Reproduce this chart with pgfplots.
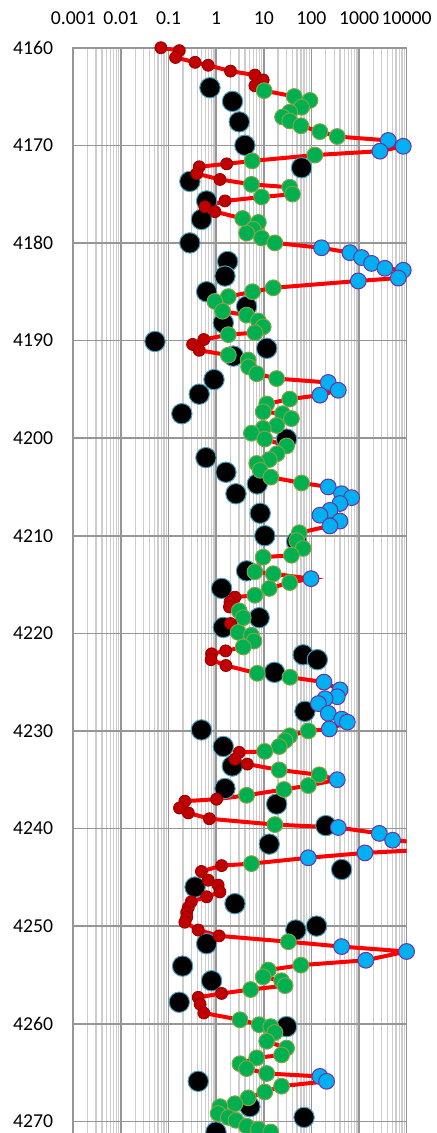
\documentclass[border=0pt]{standalone}
\usepackage{fontspec}
\setmainfont{Carlito}
\usepackage{pgfplots}
\usepackage{pgfplotstable}
\pgfplotsset{compat=1.18}
\definecolor{majg}{RGB}{150,150,150}
\definecolor{ming}{RGB}{205,205,205}
\definecolor{lred}{RGB}{255,0,0}
\definecolor{mred}{RGB}{192,0,0}
\definecolor{mredE}{RGB}{150,0,0}
\definecolor{mgreen}{RGB}{0,176,80}
\definecolor{mgreenE}{RGB}{130,165,70}
\definecolor{mblue}{RGB}{0,176,240}
\definecolor{mblueE}{RGB}{112,48,160}
\definecolor{mblkE}{RGB}{70,160,190}

\pgfplotstableread{
x y
0.74 4164.1
2.2 4165.5
3.05 4167.6
4.0 4170.0
62 4172.3
0.28 4173.7
0.63 4175.7
0.49 4177.6
0.28 4180.0
1.74 4181.9
1.53 4183.4
0.63 4185.0
4.35 4186.5
1.41 4188.2
0.052 4190.1
11.5 4190.8
2.29 4191.6
0.9 4194.0
0.44 4195.5
0.19 4197.5
30 4200.1
0.61 4202.0
1.6 4203.5
7.3 4204.7
2.6 4205.7
8.4 4207.7
10.5 4210.0
49 4210.6
4.35 4213.6
1.3 4215.4
8.0 4218.4
1.41 4219.4
67 4222.2
133 4222.7
16.8 4224.0
73 4228.0
0.49 4229.9
1.41 4231.6
2.18 4233.6
1.53 4235.9
18.6 4237.5
201 4239.7
13 4241.6
430 4244.2
0.36 4246.0
2.48 4247.7
128 4250.0
47 4250.4
0.63 4251.8
0.197 4254.1
0.80 4255.6
0.168 4257.8
30 4260.3
0.42 4265.9
5.1 4268.5
70 4269.6
0.99 4271.1
}\blackdata

\pgfplotstableread{
x y c
0.069 4160.0 r
0.168 4160.3 r
0.14 4161.0 r
0.36 4161.5 r
0.68 4161.8 r
2.0 4162.4 r
6.5 4162.8 r
9.7 4163.3 r
6.5 4163.9 r
10.2 4164.4 g
43.6 4165.0 g
93 4165.4 g
62 4166.1 g
35 4166.6 g
24.8 4167.1 g
35 4167.5 g
60 4168.0 g
151 4168.6 g
348 4169.1 g
4100 4169.5 b
8470 4170.1 b
2740 4170.6 b
118 4171.0 g
5.7 4171.6 g
1.66 4171.9 r
0.44 4172.2 r
0.39 4172.9 r
1.2 4173.5 r
5.5 4174.0 g
35 4174.3 g
40 4175.0 g
9 4175.3 g
1.53 4175.7 r
0.58 4176.3 r
0.94 4176.8 r
3.6 4177.5 g
7.7 4177.9 g
6.0 4178.6 g
4.35 4179.0 g
9.0 4179.5 g
17.1 4180.0 g
163 4180.5 b
643 4181.0 b
1130 4181.5 b
1830 4182.1 b
3490 4182.6 b
8470 4182.8 b
6650 4183.6 b
962 4183.9 b
15.8 4184.6 g
5.8 4185.0 g
1.8 4185.5 g
0.94 4186.0 g
1.36 4187.0 g
4.35 4187.4 g
7.7 4188.0 g
9.7 4188.6 g
6.5 4189.2 g
1.8 4189.4 g
0.55 4189.9 r
0.32 4190.4 r
0.44 4191.0 r
1.8 4191.5 g
4.7 4192.0 g
4.8 4192.7 g
7.1 4193.4 g
18.6 4193.9 g
225 4194.3 b
366 4195.1 b
151 4195.6 b
35 4196.0 g
11.5 4196.5 g
9.7 4197.3 g
24.8 4197.5 g
38 4198.0 g
18.6 4198.7 g
9.7 4199.0 g
5.5 4199.5 g
10.5 4200.1 g
30 4200.8 g
19 4201.6 g
13 4202.2 g
7.1 4202.6 g
8.4 4203.3 g
14 4204.0 g
62 4204.6 g
225 4205.0 b
430 4205.7 b
697 4206.1 b
396 4206.7 b
244 4207.4 b
151 4207.9 b
396 4208.5 b
244 4209.0 b
55.6 4209.7 g
49 4210.5 g
67 4211.3 g
38 4212.0 g
9.7 4212.2 g
6.5 4213.7 g
15.8 4213.9 g
98 4214.4 b
35 4214.8 g
13 4215.4 g
6.5 4216.1 g
2.48 4216.3 r
1.95 4216.8 r
1.9 4217.3 r
3.05 4217.7 g
3.7 4218.4 g
2.0 4219.0 r
2.9 4219.9 g
5.5 4220.2 g
6.2 4220.8 g
3.7 4221.4 g
1.58 4221.8 r
0.80 4222.1 r
0.78 4222.7 r
1.6 4223.3 r
7.3 4224.1 g
35.5 4224.5 g
183 4225.0 b
398 4225.8 b
349 4226.5 b
193 4226.7 b
140 4227.2 b
226 4228.2 b
431 4228.8 b
566 4229.1 b
237 4229.8 b
86 4230.0 g
35 4230.5 g
28 4231.0 g
21 4231.6 g
10.5 4232.1 g
3.05 4232.2 r
2.48 4232.9 r
4.5 4233.4 r
21 4234.0 g
146 4234.5 g
348 4235.0 b
86 4235.6 g
26.5 4236.0 g
4.35 4236.6 g
1.02 4237.0 r
0.22 4237.2 r
0.17 4237.9 r
0.26 4238.4 r
0.72 4239.0 r
17.1 4239.6 g
366 4239.9 b
2660 4240.5 b
5060 4241.2 b
300000 4241.9 x
1330 4242.5 b
86 4243.0 b
5.5 4243.6 g
1.3 4243.8 r
0.49 4244.4 r
0.68 4245.3 r
1.1 4245.8 r
1.2 4246.5 r
0.63 4247.0 r
0.30 4247.5 r
0.26 4248.1 r
0.24 4248.6 r
0.24 4249.1 r
0.22 4249.6 r
0.42 4250.4 r
1.15 4251.0 r
32.7 4251.6 g
430 4252.1 b
9950 4252.6 b
1390 4253.5 b
60 4254.0 g
12.4 4254.5 g
9.7 4255.2 g
23.6 4255.6 g
28 4256.1 g
5.3 4256.5 g
1.3 4256.9 r
0.42 4257.3 r
0.46 4258.0 r
0.55 4258.9 r
3.16 4259.6 g
8.0 4260.1 g
14 4260.3 g
17.1 4260.9 g
11.5 4261.8 g
30 4262.5 g
23.6 4263.2 g
7.1 4263.5 g
3.16 4264.1 g
4.35 4264.6 g
11.5 4265.1 g
151 4265.4 b
208 4265.9 b
23.6 4266.4 g
10.5 4267.0 g
4.7 4267.6 g
2.48 4268.2 g
1.2 4268.5 g
1.1 4269.2 g
1.8 4269.6 g
2.6 4269.9 g
4.35 4270.5 g
7.7 4270.8 g
14 4271.1 g
}\coldata

\begin{document}
\begin{tikzpicture}
\begin{axis}[
  at={(0,0)}, anchor=north west,
  scale only axis, width=333.4bp, height=1093.1bp,
  xmode=log, log basis x=10, xmin=0.001, xmax=10000,
  ymin=4160, ymax=4272, y dir=reverse,
  xtick={0.001,0.01,0.1,1,10,100,1000,10000},
  xticklabels={0.001,0.01,0.1,1,10,100,1000,10000},
  minor xtick={0.002,0.003,0.004,0.005,0.006,0.007,0.008,0.009,
    0.02,0.03,0.04,0.05,0.06,0.07,0.08,0.09,
    0.2,0.3,0.4,0.5,0.6,0.7,0.8,0.9,
    2,3,4,5,6,7,8,9,
    20,30,40,50,60,70,80,90,
    200,300,400,500,600,700,800,900,
    2000,3000,4000,5000,6000,7000,8000,9000},
  ytick={4160,4170,4180,4190,4200,4210,4220,4230,4240,4250,4260,4270},
  yticklabels={4160,4170,4180,4190,4200,4210,4220,4230,4240,4250,4260,4270},
  xticklabel pos=upper,
  major tick length=0pt, minor tick length=0pt,
  xmajorgrids, xminorgrids, ymajorgrids,
  major grid style={draw=majg, line width=1.6bp},
  minor grid style={draw=ming, line width=1.3bp},
  axis line style={draw=majg, line width=1.6bp},
  tick label style={font=\fontsize{19.7bp}{23bp}\selectfont, inner sep=0pt, text=black},
  xticklabel style={anchor=base, yshift=23.7bp},
  yticklabel style={anchor=east, xshift=-20bp},
  clip marker paths=false,
]
\addplot[only marks, mark=*, mark size=10.2bp,
  mark options={fill=black, draw=mblkE, line width=1bp}]
  table[x=x, y=y] {\blackdata};
\addplot[draw=lred, line width=4bp, no marks] table[x=x, y=y] {\coldata};
\addplot[only marks, scatter, scatter src=explicit symbolic,
  scatter/classes={
    r={mark=*, mark size=6bp, fill=mred, draw=mredE, line width=0.8bp},
    g={mark=*, mark size=7.9bp, fill=mgreen, draw=mgreenE, line width=1bp},
    b={mark=*, mark size=7.9bp, fill=mblue, draw=mblueE, line width=1bp},
    x={mark=*, mark size=0.01bp, draw=none, fill=none}}]
  table[x=x, y=y, meta=c] {\coldata};
\end{axis}
\pgfresetboundingbox
\path (-73.3bp,47.7bp) rectangle (363.7bp,-1085.3bp);
\end{tikzpicture}
\end{document}
